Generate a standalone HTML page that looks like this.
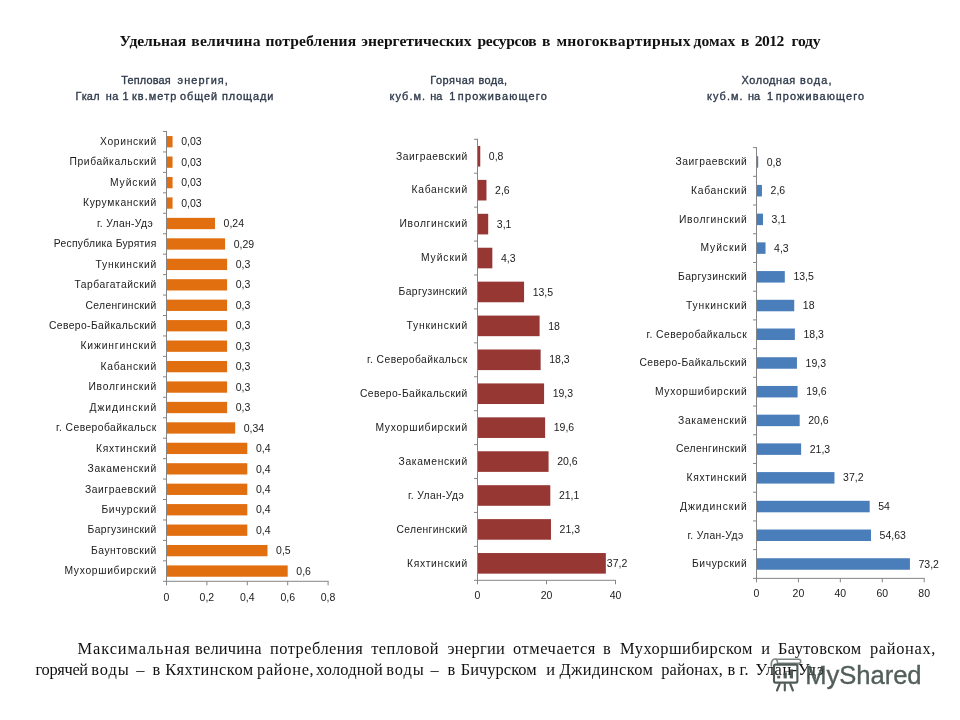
<!DOCTYPE html>
<html lang="ru"><head><meta charset="utf-8"><title>chart</title>
<style>
html,body{margin:0;padding:0;background:#fff;}
body{width:960px;height:720px;position:relative;overflow:hidden;font-family:"Liberation Sans",sans-serif;}
svg{position:absolute;left:0;top:0;will-change:transform;}
svg text{font-family:"Liberation Sans",sans-serif;}
svg g[font-family="Liberation Serif"] text{font-family:"Liberation Serif",serif;}
</style></head>
<body>
<svg width="960" height="720" viewBox="0 0 960 720" fill="#1a1a1a">
<g fill="#2f3a4b" stroke="#2f3a4b" stroke-width="0.35">
<text x="121.25" y="83.80" font-size="10.9" letter-spacing="0.194">Тепловая</text>
<text x="177.50" y="83.80" font-size="10.9" letter-spacing="1.102">энергия,</text>
<text x="75.50" y="100.00" font-size="10.9" letter-spacing="0.228">Гкал</text>
<text x="105.75" y="100.00" font-size="10.9" letter-spacing="0.435">на</text>
<text x="122.50" y="100.00" font-size="10.9">1</text>
<text x="132.00" y="100.00" font-size="10.9" letter-spacing="1.075">кв.метр</text>
<text x="180.00" y="100.00" font-size="10.9" letter-spacing="0.933">общей</text>
<text x="222.00" y="100.00" font-size="10.9" letter-spacing="0.895">площади</text>
<text x="430.30" y="83.80" font-size="10.9" letter-spacing="0.529">Горячая</text>
<text x="478.40" y="83.80" font-size="10.9" letter-spacing="0.403">вода,</text>
<text x="389.40" y="100.00" font-size="10.9" letter-spacing="1.100">куб.м.</text>
<text x="430.30" y="100.00" font-size="10.9">на</text>
<text x="449.20" y="100.00" font-size="10.9">1</text>
<text x="457.80" y="100.00" font-size="10.9" letter-spacing="1.193">проживающего</text>
<text x="741.60" y="83.80" font-size="10.9" letter-spacing="0.569">Холодная</text>
<text x="800.00" y="83.80" font-size="10.9" letter-spacing="1.178">вода,</text>
<text x="706.90" y="100.00" font-size="10.9" letter-spacing="1.100">куб.м.</text>
<text x="748.10" y="100.00" font-size="10.9">на</text>
<text x="767.00" y="100.00" font-size="10.9">1</text>
<text x="775.70" y="100.00" font-size="10.9" letter-spacing="1.147">проживающего</text>
</g>
<rect x="166.50" y="136.07" width="6.06" height="11.30" fill="#E16E0F"/>
<rect x="166.50" y="156.52" width="6.06" height="11.30" fill="#E16E0F"/>
<rect x="166.50" y="176.96" width="6.06" height="11.30" fill="#E16E0F"/>
<rect x="166.50" y="197.41" width="6.06" height="11.30" fill="#E16E0F"/>
<rect x="166.50" y="217.85" width="48.48" height="11.30" fill="#E16E0F"/>
<rect x="166.50" y="238.30" width="58.58" height="11.30" fill="#E16E0F"/>
<rect x="166.50" y="258.75" width="60.60" height="11.30" fill="#E16E0F"/>
<rect x="166.50" y="279.19" width="60.60" height="11.30" fill="#E16E0F"/>
<rect x="166.50" y="299.64" width="60.60" height="11.30" fill="#E16E0F"/>
<rect x="166.50" y="320.08" width="60.60" height="11.30" fill="#E16E0F"/>
<rect x="166.50" y="340.53" width="60.60" height="11.30" fill="#E16E0F"/>
<rect x="166.50" y="360.97" width="60.60" height="11.30" fill="#E16E0F"/>
<rect x="166.50" y="381.42" width="60.60" height="11.30" fill="#E16E0F"/>
<rect x="166.50" y="401.86" width="60.60" height="11.30" fill="#E16E0F"/>
<rect x="166.50" y="422.31" width="68.68" height="11.30" fill="#E16E0F"/>
<rect x="166.50" y="442.75" width="80.80" height="11.30" fill="#E16E0F"/>
<rect x="166.50" y="463.20" width="80.80" height="11.30" fill="#E16E0F"/>
<rect x="166.50" y="483.65" width="80.80" height="11.30" fill="#E16E0F"/>
<rect x="166.50" y="504.09" width="80.80" height="11.30" fill="#E16E0F"/>
<rect x="166.50" y="524.54" width="80.80" height="11.30" fill="#E16E0F"/>
<rect x="166.50" y="544.98" width="101.00" height="11.30" fill="#E16E0F"/>
<rect x="166.50" y="565.43" width="121.20" height="11.30" fill="#E16E0F"/>
<rect x="166.00" y="131.00" width="1" height="450.80" fill="#858585"/>
<rect x="166.00" y="580.80" width="162.60" height="1" fill="#858585"/>
<rect x="163.00" y="131.00" width="3.5" height="1" fill="#858585"/>
<rect x="163.00" y="151.45" width="3.5" height="1" fill="#858585"/>
<rect x="163.00" y="171.89" width="3.5" height="1" fill="#858585"/>
<rect x="163.00" y="192.34" width="3.5" height="1" fill="#858585"/>
<rect x="163.00" y="212.78" width="3.5" height="1" fill="#858585"/>
<rect x="163.00" y="233.23" width="3.5" height="1" fill="#858585"/>
<rect x="163.00" y="253.67" width="3.5" height="1" fill="#858585"/>
<rect x="163.00" y="274.12" width="3.5" height="1" fill="#858585"/>
<rect x="163.00" y="294.56" width="3.5" height="1" fill="#858585"/>
<rect x="163.00" y="315.01" width="3.5" height="1" fill="#858585"/>
<rect x="163.00" y="335.45" width="3.5" height="1" fill="#858585"/>
<rect x="163.00" y="355.90" width="3.5" height="1" fill="#858585"/>
<rect x="163.00" y="376.35" width="3.5" height="1" fill="#858585"/>
<rect x="163.00" y="396.79" width="3.5" height="1" fill="#858585"/>
<rect x="163.00" y="417.24" width="3.5" height="1" fill="#858585"/>
<rect x="163.00" y="437.68" width="3.5" height="1" fill="#858585"/>
<rect x="163.00" y="458.13" width="3.5" height="1" fill="#858585"/>
<rect x="163.00" y="478.57" width="3.5" height="1" fill="#858585"/>
<rect x="163.00" y="499.02" width="3.5" height="1" fill="#858585"/>
<rect x="163.00" y="519.46" width="3.5" height="1" fill="#858585"/>
<rect x="163.00" y="539.91" width="3.5" height="1" fill="#858585"/>
<rect x="163.00" y="560.35" width="3.5" height="1" fill="#858585"/>
<rect x="163.00" y="580.80" width="3.5" height="1" fill="#858585"/>
<rect x="166.00" y="581.30" width="1" height="4" fill="#858585"/>
<text x="166.50" y="601.00" text-anchor="middle" font-size="10.5">0</text>
<rect x="206.40" y="581.30" width="1" height="4" fill="#858585"/>
<text x="206.90" y="601.00" text-anchor="middle" font-size="10.5">0,2</text>
<rect x="246.80" y="581.30" width="1" height="4" fill="#858585"/>
<text x="247.30" y="601.00" text-anchor="middle" font-size="10.5">0,4</text>
<rect x="287.20" y="581.30" width="1" height="4" fill="#858585"/>
<text x="287.70" y="601.00" text-anchor="middle" font-size="10.5">0,6</text>
<rect x="327.60" y="581.30" width="1" height="4" fill="#858585"/>
<text x="328.10" y="601.00" text-anchor="middle" font-size="10.5">0,8</text>
<text x="100.00" y="144.97" font-size="10.3" letter-spacing="0.676">Хоринский</text>
<text x="181.16" y="145.37" font-size="10.5">0,03</text>
<text x="69.50" y="165.42" font-size="10.3" letter-spacing="0.593">Прибайкальский</text>
<text x="181.16" y="165.82" font-size="10.5">0,03</text>
<text x="110.00" y="185.86" font-size="10.3" letter-spacing="0.909">Муйский</text>
<text x="181.16" y="186.26" font-size="10.5">0,03</text>
<text x="83.00" y="206.31" font-size="10.3" letter-spacing="0.651">Курумканский</text>
<text x="181.16" y="206.71" font-size="10.5">0,03</text>
<text x="97.00" y="226.75" font-size="10.3" letter-spacing="0.367" xml:space="preserve">г. Улан-Удэ</text>
<text x="223.58" y="227.15" font-size="10.5">0,24</text>
<text x="53.75" y="247.20" font-size="10.3" letter-spacing="0.295" xml:space="preserve">Республика Бурятия</text>
<text x="233.68" y="247.60" font-size="10.5">0,29</text>
<text x="95.50" y="267.65" font-size="10.3" letter-spacing="0.785">Тункинский</text>
<text x="235.70" y="268.05" font-size="10.5">0,3</text>
<text x="74.50" y="288.09" font-size="10.3" letter-spacing="0.522">Тарбагатайский</text>
<text x="235.70" y="288.49" font-size="10.5">0,3</text>
<text x="85.50" y="308.54" font-size="10.3" letter-spacing="0.375">Селенгинский</text>
<text x="235.70" y="308.94" font-size="10.5">0,3</text>
<text x="49.00" y="328.98" font-size="10.3" letter-spacing="0.404">Северо-Байкальский</text>
<text x="235.70" y="329.38" font-size="10.5">0,3</text>
<text x="80.50" y="349.43" font-size="10.3" letter-spacing="0.844">Кижингинский</text>
<text x="235.70" y="349.83" font-size="10.5">0,3</text>
<text x="100.50" y="369.87" font-size="10.3" letter-spacing="0.719">Кабанский</text>
<text x="235.70" y="370.27" font-size="10.5">0,3</text>
<text x="88.50" y="390.32" font-size="10.3" letter-spacing="0.710">Иволгинский</text>
<text x="235.70" y="390.72" font-size="10.5">0,3</text>
<text x="89.50" y="410.76" font-size="10.3" letter-spacing="0.945">Джидинский</text>
<text x="235.70" y="411.16" font-size="10.5">0,3</text>
<text x="56.00" y="431.21" font-size="10.3" letter-spacing="0.451" xml:space="preserve">г. Северобайкальск</text>
<text x="243.78" y="431.61" font-size="10.5">0,34</text>
<text x="96.00" y="451.65" font-size="10.3" letter-spacing="0.700">Кяхтинский</text>
<text x="255.90" y="452.05" font-size="10.5">0,4</text>
<text x="87.50" y="472.10" font-size="10.3" letter-spacing="0.666">Закаменский</text>
<text x="255.90" y="472.50" font-size="10.5">0,4</text>
<text x="85.00" y="492.55" font-size="10.3" letter-spacing="0.551">Заиграевский</text>
<text x="255.90" y="492.95" font-size="10.5">0,4</text>
<text x="101.50" y="512.99" font-size="10.3" letter-spacing="0.616">Бичурский</text>
<text x="255.90" y="513.39" font-size="10.5">0,4</text>
<text x="87.50" y="533.44" font-size="10.3" letter-spacing="0.389">Баргузинский</text>
<text x="255.90" y="533.84" font-size="10.5">0,4</text>
<text x="91.00" y="553.88" font-size="10.3" letter-spacing="0.517">Баунтовский</text>
<text x="276.10" y="554.28" font-size="10.5">0,5</text>
<text x="64.50" y="574.33" font-size="10.3" letter-spacing="0.680">Мухоршибирский</text>
<text x="296.30" y="574.73" font-size="10.5">0,6</text>
<rect x="477.50" y="145.96" width="2.76" height="20.60" fill="#963734"/>
<rect x="477.50" y="179.88" width="8.97" height="20.60" fill="#963734"/>
<rect x="477.50" y="213.81" width="10.70" height="20.60" fill="#963734"/>
<rect x="477.50" y="247.73" width="14.84" height="20.60" fill="#963734"/>
<rect x="477.50" y="281.65" width="46.58" height="20.60" fill="#963734"/>
<rect x="477.50" y="315.58" width="62.10" height="20.60" fill="#963734"/>
<rect x="477.50" y="349.50" width="63.14" height="20.60" fill="#963734"/>
<rect x="477.50" y="383.42" width="66.59" height="20.60" fill="#963734"/>
<rect x="477.50" y="417.35" width="67.62" height="20.60" fill="#963734"/>
<rect x="477.50" y="451.27" width="71.07" height="20.60" fill="#963734"/>
<rect x="477.50" y="485.19" width="72.80" height="20.60" fill="#963734"/>
<rect x="477.50" y="519.12" width="73.48" height="20.60" fill="#963734"/>
<rect x="477.50" y="553.04" width="128.34" height="20.60" fill="#963734"/>
<rect x="477.00" y="138.80" width="1" height="442.00" fill="#858585"/>
<rect x="477.00" y="579.80" width="139.00" height="1" fill="#858585"/>
<rect x="474.00" y="138.80" width="3.5" height="1" fill="#858585"/>
<rect x="474.00" y="172.72" width="3.5" height="1" fill="#858585"/>
<rect x="474.00" y="206.65" width="3.5" height="1" fill="#858585"/>
<rect x="474.00" y="240.57" width="3.5" height="1" fill="#858585"/>
<rect x="474.00" y="274.49" width="3.5" height="1" fill="#858585"/>
<rect x="474.00" y="308.42" width="3.5" height="1" fill="#858585"/>
<rect x="474.00" y="342.34" width="3.5" height="1" fill="#858585"/>
<rect x="474.00" y="376.26" width="3.5" height="1" fill="#858585"/>
<rect x="474.00" y="410.18" width="3.5" height="1" fill="#858585"/>
<rect x="474.00" y="444.11" width="3.5" height="1" fill="#858585"/>
<rect x="474.00" y="478.03" width="3.5" height="1" fill="#858585"/>
<rect x="474.00" y="511.95" width="3.5" height="1" fill="#858585"/>
<rect x="474.00" y="545.88" width="3.5" height="1" fill="#858585"/>
<rect x="474.00" y="579.80" width="3.5" height="1" fill="#858585"/>
<rect x="477.00" y="580.30" width="1" height="4" fill="#858585"/>
<text x="477.50" y="599.20" text-anchor="middle" font-size="10.5">0</text>
<rect x="546.00" y="580.30" width="1" height="4" fill="#858585"/>
<text x="546.50" y="599.20" text-anchor="middle" font-size="10.5">20</text>
<rect x="615.00" y="580.30" width="1" height="4" fill="#858585"/>
<text x="615.50" y="599.20" text-anchor="middle" font-size="10.5">40</text>
<text x="396.00" y="159.51" font-size="10.3" letter-spacing="0.551">Заиграевский</text>
<text x="488.86" y="159.91" font-size="10.5">0,8</text>
<text x="411.50" y="193.43" font-size="10.3" letter-spacing="0.719">Кабанский</text>
<text x="495.07" y="193.83" font-size="10.5">2,6</text>
<text x="399.50" y="227.36" font-size="10.3" letter-spacing="0.710">Иволгинский</text>
<text x="496.80" y="227.76" font-size="10.5">3,1</text>
<text x="421.00" y="261.28" font-size="10.3" letter-spacing="0.909">Муйский</text>
<text x="500.94" y="261.68" font-size="10.5">4,3</text>
<text x="398.50" y="295.20" font-size="10.3" letter-spacing="0.389">Баргузинский</text>
<text x="532.68" y="295.60" font-size="10.5">13,5</text>
<text x="406.50" y="329.13" font-size="10.3" letter-spacing="0.785">Тункинский</text>
<text x="548.20" y="329.53" font-size="10.5">18</text>
<text x="367.00" y="363.05" font-size="10.3" letter-spacing="0.451" xml:space="preserve">г. Северобайкальск</text>
<text x="549.24" y="363.45" font-size="10.5">18,3</text>
<text x="360.00" y="396.97" font-size="10.3" letter-spacing="0.404">Северо-Байкальский</text>
<text x="552.69" y="397.37" font-size="10.5">19,3</text>
<text x="375.50" y="430.90" font-size="10.3" letter-spacing="0.680">Мухоршибирский</text>
<text x="553.72" y="431.30" font-size="10.5">19,6</text>
<text x="398.50" y="464.82" font-size="10.3" letter-spacing="0.666">Закаменский</text>
<text x="557.17" y="465.22" font-size="10.5">20,6</text>
<text x="408.00" y="498.74" font-size="10.3" letter-spacing="0.367" xml:space="preserve">г. Улан-Удэ</text>
<text x="558.89" y="499.14" font-size="10.5">21,1</text>
<text x="396.50" y="532.67" font-size="10.3" letter-spacing="0.375">Селенгинский</text>
<text x="559.59" y="533.07" font-size="10.5">21,3</text>
<text x="407.00" y="566.59" font-size="10.3" letter-spacing="0.700">Кяхтинский</text>
<text x="606.84" y="566.99" font-size="10.5">37,2</text>
<rect x="756.50" y="156.21" width="1.68" height="11.50" fill="#4A7EBB"/>
<rect x="756.50" y="184.92" width="5.45" height="11.50" fill="#4A7EBB"/>
<rect x="756.50" y="213.64" width="6.50" height="11.50" fill="#4A7EBB"/>
<rect x="756.50" y="242.36" width="9.01" height="11.50" fill="#4A7EBB"/>
<rect x="756.50" y="271.07" width="28.30" height="11.50" fill="#4A7EBB"/>
<rect x="756.50" y="299.79" width="37.73" height="11.50" fill="#4A7EBB"/>
<rect x="756.50" y="328.51" width="38.36" height="11.50" fill="#4A7EBB"/>
<rect x="756.50" y="357.23" width="40.45" height="11.50" fill="#4A7EBB"/>
<rect x="756.50" y="385.94" width="41.08" height="11.50" fill="#4A7EBB"/>
<rect x="756.50" y="414.66" width="43.18" height="11.50" fill="#4A7EBB"/>
<rect x="756.50" y="443.38" width="44.64" height="11.50" fill="#4A7EBB"/>
<rect x="756.50" y="472.09" width="77.97" height="11.50" fill="#4A7EBB"/>
<rect x="756.50" y="500.81" width="113.18" height="11.50" fill="#4A7EBB"/>
<rect x="756.50" y="529.52" width="114.50" height="11.50" fill="#4A7EBB"/>
<rect x="756.50" y="558.24" width="153.43" height="11.50" fill="#4A7EBB"/>
<rect x="756.00" y="147.10" width="1" height="431.75" fill="#858585"/>
<rect x="756.00" y="577.85" width="168.68" height="1" fill="#858585"/>
<rect x="753.00" y="147.10" width="3.5" height="1" fill="#858585"/>
<rect x="753.00" y="175.82" width="3.5" height="1" fill="#858585"/>
<rect x="753.00" y="204.53" width="3.5" height="1" fill="#858585"/>
<rect x="753.00" y="233.25" width="3.5" height="1" fill="#858585"/>
<rect x="753.00" y="261.97" width="3.5" height="1" fill="#858585"/>
<rect x="753.00" y="290.68" width="3.5" height="1" fill="#858585"/>
<rect x="753.00" y="319.40" width="3.5" height="1" fill="#858585"/>
<rect x="753.00" y="348.12" width="3.5" height="1" fill="#858585"/>
<rect x="753.00" y="376.83" width="3.5" height="1" fill="#858585"/>
<rect x="753.00" y="405.55" width="3.5" height="1" fill="#858585"/>
<rect x="753.00" y="434.27" width="3.5" height="1" fill="#858585"/>
<rect x="753.00" y="462.98" width="3.5" height="1" fill="#858585"/>
<rect x="753.00" y="491.70" width="3.5" height="1" fill="#858585"/>
<rect x="753.00" y="520.42" width="3.5" height="1" fill="#858585"/>
<rect x="753.00" y="549.13" width="3.5" height="1" fill="#858585"/>
<rect x="753.00" y="577.85" width="3.5" height="1" fill="#858585"/>
<rect x="756.00" y="578.35" width="1" height="4" fill="#858585"/>
<text x="756.50" y="597.00" text-anchor="middle" font-size="10.5">0</text>
<rect x="797.92" y="578.35" width="1" height="4" fill="#858585"/>
<text x="798.42" y="597.00" text-anchor="middle" font-size="10.5">20</text>
<rect x="839.84" y="578.35" width="1" height="4" fill="#858585"/>
<text x="840.34" y="597.00" text-anchor="middle" font-size="10.5">40</text>
<rect x="881.76" y="578.35" width="1" height="4" fill="#858585"/>
<text x="882.26" y="597.00" text-anchor="middle" font-size="10.5">60</text>
<rect x="923.68" y="578.35" width="1" height="4" fill="#858585"/>
<text x="924.18" y="597.00" text-anchor="middle" font-size="10.5">80</text>
<text x="675.50" y="165.21" font-size="10.3" letter-spacing="0.551">Заиграевский</text>
<text x="766.78" y="165.61" font-size="10.5">0,8</text>
<text x="691.00" y="193.92" font-size="10.3" letter-spacing="0.719">Кабанский</text>
<text x="770.55" y="194.32" font-size="10.5">2,6</text>
<text x="679.00" y="222.64" font-size="10.3" letter-spacing="0.710">Иволгинский</text>
<text x="771.60" y="223.04" font-size="10.5">3,1</text>
<text x="700.50" y="251.36" font-size="10.3" letter-spacing="0.909">Муйский</text>
<text x="774.11" y="251.76" font-size="10.5">4,3</text>
<text x="678.00" y="280.07" font-size="10.3" letter-spacing="0.389">Баргузинский</text>
<text x="793.40" y="280.47" font-size="10.5">13,5</text>
<text x="686.00" y="308.79" font-size="10.3" letter-spacing="0.785">Тункинский</text>
<text x="802.83" y="309.19" font-size="10.5">18</text>
<text x="646.50" y="337.51" font-size="10.3" letter-spacing="0.451" xml:space="preserve">г. Северобайкальск</text>
<text x="803.46" y="337.91" font-size="10.5">18,3</text>
<text x="639.50" y="366.23" font-size="10.3" letter-spacing="0.404">Северо-Байкальский</text>
<text x="805.55" y="366.62" font-size="10.5">19,3</text>
<text x="655.00" y="394.94" font-size="10.3" letter-spacing="0.680">Мухоршибирский</text>
<text x="806.18" y="395.34" font-size="10.5">19,6</text>
<text x="678.00" y="423.66" font-size="10.3" letter-spacing="0.666">Закаменский</text>
<text x="808.28" y="424.06" font-size="10.5">20,6</text>
<text x="676.00" y="452.38" font-size="10.3" letter-spacing="0.375">Селенгинский</text>
<text x="809.74" y="452.77" font-size="10.5">21,3</text>
<text x="686.50" y="481.09" font-size="10.3" letter-spacing="0.700">Кяхтинский</text>
<text x="843.07" y="481.49" font-size="10.5">37,2</text>
<text x="680.00" y="509.81" font-size="10.3" letter-spacing="0.945">Джидинский</text>
<text x="878.28" y="510.21" font-size="10.5">54</text>
<text x="687.50" y="538.52" font-size="10.3" letter-spacing="0.367" xml:space="preserve">г. Улан-Удэ</text>
<text x="879.60" y="538.92" font-size="10.5">54,63</text>
<text x="692.00" y="567.24" font-size="10.3" letter-spacing="0.616">Бичурский</text>
<text x="918.53" y="567.64" font-size="10.5">73,2</text>
<g font-family="Liberation Serif" fill="#111">
<text x="119.50" y="46.40" font-size="15.6" letter-spacing="-0.054" font-weight="bold">Удельная</text>
<text x="191.25" y="46.40" font-size="15.6" letter-spacing="0.243" font-weight="bold">величина</text>
<text x="265.50" y="46.40" font-size="15.6" letter-spacing="0.108" font-weight="bold">потребления</text>
<text x="361.25" y="46.40" font-size="15.6" font-weight="bold">энергетических</text>
<text x="477.50" y="46.40" font-size="15.6" letter-spacing="-0.377" font-weight="bold">ресурсов</text>
<text x="542.00" y="46.40" font-size="15.6" font-weight="bold">в</text>
<text x="556.40" y="46.40" font-size="15.6" letter-spacing="0.303" font-weight="bold">многоквартирных</text>
<text x="693.50" y="46.40" font-size="15.6" letter-spacing="0.098" font-weight="bold">домах</text>
<text x="741.00" y="46.40" font-size="15.6" font-weight="bold">в</text>
<text x="754.75" y="46.40" font-size="15.6" letter-spacing="-0.515" font-weight="bold">2012</text>
<text x="791.50" y="46.40" font-size="15.6" letter-spacing="-0.214" font-weight="bold">году</text>
<text x="77.50" y="654.00" font-size="16.4" letter-spacing="0.911">Максимальная</text>
<text x="195.00" y="654.00" font-size="16.4" letter-spacing="0.244">величина</text>
<text x="270.00" y="654.00" font-size="16.4" letter-spacing="0.484">потребления</text>
<text x="371.25" y="654.00" font-size="16.4" letter-spacing="0.459">тепловой</text>
<text x="447.50" y="654.00" font-size="16.4" letter-spacing="0.309">энергии</text>
<text x="513.00" y="654.00" font-size="16.4" letter-spacing="0.560">отмечается</text>
<text x="603.00" y="654.00" font-size="16.4">в</text>
<text x="620.00" y="654.00" font-size="16.4" letter-spacing="0.516">Мухоршибирском</text>
<text x="761.25" y="654.00" font-size="16.4">и</text>
<text x="778.00" y="654.00" font-size="16.4" letter-spacing="0.405">Баутовском</text>
<text x="870.00" y="654.00" font-size="16.4" letter-spacing="0.668">районах,</text>
<text x="35.50" y="675.20" font-size="16.4" letter-spacing="-0.316">горячей</text>
<text x="91.25" y="675.20" font-size="16.4" letter-spacing="0.898">воды</text>
<text x="136.25" y="675.20" font-size="16.4">–</text>
<text x="152.50" y="675.20" font-size="16.4">в</text>
<text x="165.20" y="675.20" font-size="16.4" letter-spacing="0.480">Кяхтинском</text>
<text x="257.00" y="675.20" font-size="16.4" letter-spacing="0.686">районе,</text>
<text x="316.00" y="675.20" font-size="16.4" letter-spacing="0.195">холодной</text>
<text x="386.25" y="675.20" font-size="16.4" letter-spacing="0.898">воды</text>
<text x="430.50" y="675.20" font-size="16.4">–</text>
<text x="447.50" y="675.20" font-size="16.4">в</text>
<text x="460.75" y="675.20" font-size="16.4" letter-spacing="0.052">Бичурском</text>
<text x="546.25" y="675.20" font-size="16.4">и</text>
<text x="559.50" y="675.20" font-size="16.4" letter-spacing="0.397">Джидинском</text>
<text x="661.25" y="675.20" font-size="16.4" letter-spacing="0.133">районах,</text>
<text x="727.50" y="675.20" font-size="16.4">в</text>
<text x="739.50" y="675.20" font-size="16.4" letter-spacing="0.226">г.</text>
<text x="755.50" y="675.20" font-size="16.4" letter-spacing="0.588">Улан-Удэ</text>
</g>
</svg>
<svg width="960" height="720" viewBox="0 0 960 720" style="opacity:.9">
<g fill="none" stroke="#3b4943" stroke-width="2.1" stroke-linecap="round" stroke-linejoin="round">
<g stroke-width="1.6" opacity="0.75"><path d="M771.3 666 C771 660.5 773 659 775 659 C777 659 777.6 661 777.6 664"/>
<path d="M776 659.2 H798.5 C801.5 659.2 801.5 663.4 798.5 663.4 H778"/></g>
<rect x="774" y="664.6" width="23.4" height="18" rx="1.5"/>
<path d="M779.6 684 L777 690.5 M784.8 684 V690.5 M790.3 684 L792.9 690.5"/>
</g>
<text x="805.3" y="684" font-size="25.6" fill="#3f4c48" stroke="#3f4c48" stroke-width="0.35" letter-spacing="-0.05">MyShared</text>
<g fill="#3b4943"><rect x="777.2" y="675.8" width="3" height="2.6"/><rect x="783.6" y="672.4" width="3.2" height="6"/><rect x="789.8" y="669.4" width="3.2" height="9"/></g>
</svg>
</body></html>
